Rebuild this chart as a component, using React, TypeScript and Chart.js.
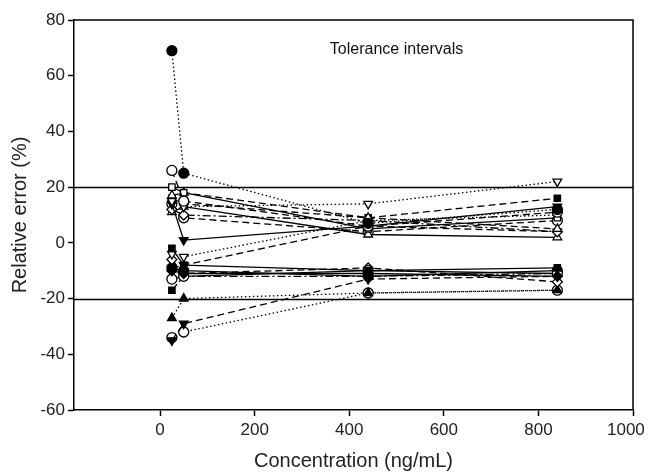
import { useEffect, useRef } from "react";
import { Chart, registerables } from "chart.js";

Chart.register(...registerables);

// ---- data ----
const concentrations = [25, 50, 440, 840];
const xTickValues = [0, 200, 400, 600, 800, 1000];
const yTickValues = [-60, -40, -20, 0, 20, 40, 60, 80];
const toleranceLimits = [20, -20];
const annotationText = "Tolerance intervals";
const annotationAt = [359, 69.5];
const xTitle = "Concentration (ng/mL)";
const yTitle = "Relative error (%)";

// relative errors (%) at each concentration
const s01 = [69, 25, 7, 12];
const s02 = [26, 15, 6, 11];
const s03 = [20, 18, 5, 9];
const s04 = [17, 18, 9, 5];
const s05 = [15, 13, 14, 22];
const s06 = [14, 1, 6, 13];
const s07 = [12, 10, 8, 4];
const s08 = [16, 14, 9, 16];
const s09 = [11, 13, 3, 2];
const s10 = [14, 9, 4, 8];
const s11 = [-2, -8, -10, -9];
const s12 = [-4, -5, 8, 10];
const s13 = [-9, -8, 6, 4];
const s14 = [-10, -11, -11, -12];
const s15 = [-13, -12, -10, -11];
const s16 = [-6, -11, -9, -14];
const s17 = [-17, -12, -12, -11];
const s18 = [-27, -20, -18, -17];
const s19 = [-35, -29, -13, -12];
const s20 = [-34, -32, -18, -17];
const s21 = [-9, -10, -12, -10];

const seriesList = [s01, s02, s03, s04, s05, s06, s07, s08, s09, s10, s11, s12, s13, s14, s15, s16, s17, s18, s19, s20, s21];

// ---- styles (marker, filled, line) ----
type Marker = "circle" | "rect" | "triangle" | "invtri" | "diamond";
type LineKind = "solid" | "dashed" | "dotted" | "dashdot";
const styleList: [Marker, boolean, LineKind][] = [
  ["circle", true, "dotted"],
  ["circle", false, "dashed"],
  ["rect", false, "solid"],
  ["triangle", false, "dashed"],
  ["invtri", false, "dotted"],
  ["invtri", true, "solid"],
  ["diamond", false, "dashdot"],
  ["rect", true, "dashed"],
  ["triangle", false, "solid"],
  ["circle", false, "dashed"],
  ["rect", true, "solid"],
  ["invtri", false, "dotted"],
  ["invtri", true, "dashed"],
  ["diamond", true, "solid"],
  ["circle", false, "solid"],
  ["diamond", false, "dashed"],
  ["rect", true, "dashdot"],
  ["triangle", true, "dotted"],
  ["invtri", true, "dashed"],
  ["circle", false, "dotted"],
  ["circle", true, "solid"],
];

const dashFor = (k: LineKind): number[] =>
  k === "dashed" ? [7, 4] : k === "dotted" ? [1.5, 2.5] : k === "dashdot" ? [8, 3, 2, 3] : [];

const FONT = "'Liberation Sans', Arial, Helvetica, sans-serif";

export default function App() {
  const ref = useRef<HTMLCanvasElement | null>(null);

  useEffect(() => {
    document.body.style.margin = "0";
    const canvas = ref.current;
    if (!canvas) return;

    const datasets = seriesList.map((vals, i) => {
      const [marker, filled, line] = styleList[i];
      const pointStyle = marker === "invtri" ? "triangle" : marker === "diamond" ? "rectRot" : marker;
      return {
        label: `Series ${i + 1}`,
        data: vals.map((v, j) => ({ x: concentrations[j], y: v })),
        borderColor: "#000",
        borderWidth: 1.3,
        borderDash: dashFor(line),
        backgroundColor: filled ? "#000" : "#fff",
        pointBackgroundColor: filled ? "#000" : "#fff",
        pointBorderColor: "#000",
        pointBorderWidth: 1.3,
        pointStyle,
        pointRotation: marker === "invtri" ? 180 : 0,
        pointRadius: marker === "rect" ? 4.5 : 5,
        tension: 0,
        fill: false,
      };
    });

    const framePlugin = {
      id: "frame",
      beforeDatasetsDraw(chart: any) {
        const { ctx, chartArea, scales } = chart;
        ctx.save();
        ctx.strokeStyle = "#000";
        ctx.lineWidth = 1.5;
        toleranceLimits.forEach((v) => {
          const y = Math.round(scales.y.getPixelForValue(v)) + 0.5;
          ctx.beginPath();
          ctx.moveTo(chartArea.left, y);
          ctx.lineTo(chartArea.right, y);
          ctx.stroke();
        });
        ctx.fillStyle = "#111";
        ctx.font = `16px ${FONT}`;
        ctx.textAlign = "left";
        ctx.textBaseline = "middle";
        ctx.fillText(
          annotationText,
          scales.x.getPixelForValue(annotationAt[0]),
          scales.y.getPixelForValue(annotationAt[1])
        );
        ctx.restore();
      },
      afterDraw(chart: any) {
        const { ctx, chartArea } = chart;
        ctx.save();
        ctx.strokeStyle = "#000";
        ctx.lineWidth = 1.5;
        ctx.beginPath();
        ctx.moveTo(chartArea.left, chartArea.top);
        ctx.lineTo(chartArea.right, chartArea.top);
        ctx.lineTo(chartArea.right, chartArea.bottom);
        ctx.stroke();
        ctx.restore();
      },
    };

    const lastX = xTickValues[xTickValues.length - 1];

    const chart = new Chart(canvas, {
      type: "line",
      data: { datasets: datasets as any },
      plugins: [framePlugin],
      options: {
        animation: false,
        responsive: false,
        layout: { padding: { top: 20, right: 15, left: 0, bottom: 0 } },
        plugins: { legend: { display: false }, tooltip: { enabled: false } },
        scales: {
          x: {
            type: "linear",
            min: -182,
            max: 1000,
            afterFit: (s: any) => {
              s.height = 63;
              s.paddingLeft = 0;
              s.paddingRight = 0;
            },
            afterBuildTicks: (s: any) => {
              s.ticks = xTickValues.map((v) => ({ value: v }));
            },
            grid: { drawOnChartArea: false, tickLength: 6, tickWidth: 1.5, tickColor: "#000" },
            border: { color: "#000", width: 1.5 },
            ticks: {
              color: "#222",
              font: { family: FONT, size: 17 },
              padding: 4,
              maxRotation: 0,
              // keep the last label inside the canvas, as in the reference
              callback: (v: any) => (v === lastX ? String(v) + "\u00a0\u00a0\u00a0" : String(v)),
            },
            title: {
              display: true,
              text: xTitle,
              color: "#222",
              font: { family: FONT, size: 20 },
              padding: { top: 0, bottom: 0 },
            },
          },
          y: {
            type: "linear",
            min: -60,
            max: 80,
            afterFit: (s: any) => {
              s.width = 74;
              s.paddingTop = 0;
              s.paddingBottom = 0;
            },
            afterBuildTicks: (s: any) => {
              s.ticks = yTickValues.map((v) => ({ value: v }));
            },
            grid: { drawOnChartArea: false, tickLength: 6, tickWidth: 1.5, tickColor: "#000" },
            border: { color: "#000", width: 1.5 },
            ticks: { color: "#222", font: { family: FONT, size: 17 }, padding: 3, callback: (v: any) => String(v) },
            title: {
              display: true,
              text: yTitle,
              color: "#222",
              font: { family: FONT, size: 20 },
              padding: { top: 8, bottom: 0 },
            },
          },
        },
      },
    });

    return () => chart.destroy();
  }, []);

  return <canvas ref={ref} width={648} height={473} style={{ display: "block", width: 648, height: 473 }} />;
}
